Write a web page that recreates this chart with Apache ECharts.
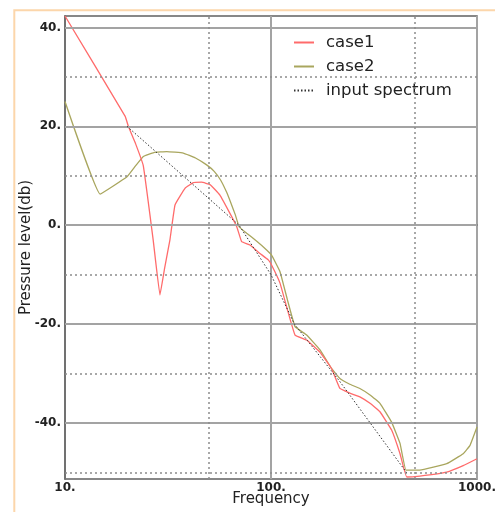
<!DOCTYPE html>
<html>
<head>
<meta charset="utf-8">
<script src="https://cdn.jsdelivr.net/npm/echarts@6/dist/echarts.min.js"></script>
<style>
  html, body { margin: 0; padding: 0; background: #fff; }
  #chart { width: 495px; height: 512px; }
</style>
</head>
<body>
<div id="chart"></div>
<script>
// ---- data ----
const case1Freq = [10, 19.6, 20.3, 22, 24, 26.8, 28.9, 30.5, 32.3, 34.2, 38.3, 42, 46, 50.7, 56.5, 63.2, 68.2, 72, 79, 88.4, 97, 100.5, 110.6, 120, 130.8, 149, 173, 197, 216, 240, 270, 305, 338, 385, 423, 456, 528, 713, 857, 1000];
const case1Val  = [42.3, 22, 20, 16.5, 12, -3, -14.1, -8.5, -3, 4.1, 7.5, 8.6, 8.7, 8.2, 6.1, 2.4, -0.3, -3.3, -4, -5.7, -7, -8, -11.7, -17, -22.2, -23.2, -25.7, -29, -33, -33.9, -34.7, -36.1, -37.7, -41.4, -46.2, -50.9, -50.7, -49.9, -48.6, -47.2];

const case2Freq = [10, 14.8, 20, 22, 24, 27, 31.2, 37.5, 43, 48.7, 53, 57, 61, 64, 67, 70, 76.2, 85, 93.5, 100.5, 110.6, 120, 130.8, 149, 173, 197, 216, 240, 270, 305, 338, 385, 423, 452, 528, 713, 857, 925, 1000];
const case2Val  = [25, 6.3, 9.8, 12, 13.9, 14.7, 14.9, 14.6, 13.6, 12.2, 10.9, 9.1, 6.6, 4.4, 2.2, -0.3, -1.6, -3.2, -4.7, -6, -9.4, -15, -20.5, -22.2, -25.2, -29, -31, -32.1, -33, -34.4, -36, -39.8, -44.1, -49.5, -49.5, -48.2, -46.2, -44.5, -40.8];

const inputFreq = [20, 70, 100, 130, 215, 455];
const inputVal  = [20, 0, -10, -20, -31.5, -50];

const yMin = -51.3, yMax = 42.3;
const yMajorTicks = [40, 20, 0, -20, -40];
const yMinorTicks = [30, 10, -10, -30, -50];
const xMinorTicks = [50, 500];

const seriesNames = ['case1', 'case2', 'input spectrum'];

// ---- build ----
const zip = (xs, ys) => xs.map((x, i) => [x, ys[i]]);
const font = 'DejaVu Sans';

const gridLines = [].concat(
  yMajorTicks.map(v => ({ yAxis: v, lineStyle: { type: 'solid', color: '#a3a3a3', width: 2 } })),
  yMinorTicks.map(v => ({ yAxis: v, lineStyle: { type: [2, 3], color: '#8c8c8c', width: 1.5 } })),
  xMinorTicks.map(v => ({ xAxis: v, lineStyle: { type: [2, 3], color: '#8c8c8c', width: 1.5 } }))
);

const chart = echarts.init(document.getElementById('chart'), null, { renderer: 'canvas' });
chart.setOption({
  animation: false,
  backgroundColor: '#fff',
  graphic: [{
    type: 'rect', silent: true,
    shape: { x: 14.3, y: 10.3, width: 700, height: 700 },
    style: { fill: 'none', stroke: '#fcd6ab', lineWidth: 2 }
  }],
  grid: {
    left: 65, top: 16, right: 18, bottom: 33,
    outerBoundsMode: 'none', containLabel: false,
    show: true, borderColor: '#606060', borderWidth: 1.5, backgroundColor: 'transparent'
  },
  legend: {
    data: seriesNames,
    orient: 'vertical',
    left: 293, top: 34,
    padding: 0,
    itemWidth: 20, itemHeight: 14, itemGap: 7,
    itemStyle: { opacity: 0 },
    textStyle: { fontFamily: font, fontSize: 16.5, color: '#222', lineHeight: 16, padding: [0, 0, 0, 7] }
  },
  xAxis: {
    type: 'log', logBase: 10, min: 10, max: 1000,
    name: 'Frequency', nameLocation: 'middle', nameGap: 13, nameMoveOverlap: false,
    nameTextStyle: { fontFamily: font, fontSize: 15, color: '#222' },
    axisLine: { show: true, lineStyle: { color: '#606060', width: 1.5 } },
    axisTick: { show: false },
    axisLabel: { margin: 3, fontFamily: font, fontSize: 12, fontWeight: 'bold', color: '#222',
                 formatter: v => v + '.' },
    splitLine: { show: true, lineStyle: { color: '#a3a3a3', width: 2 } },
    minorSplitLine: { show: false }
  },
  yAxis: {
    type: 'value', min: yMin, max: yMax,
    name: 'Pressure level(db)', nameLocation: 'middle', nameGap: 31, nameRotate: 90, nameMoveOverlap: false,
    nameTextStyle: { fontFamily: font, fontSize: 15, color: '#222' },
    axisLine: { show: true, lineStyle: { color: '#606060', width: 1.5 } },
    axisTick: { show: false, customValues: yMajorTicks },
    axisLabel: { customValues: yMajorTicks, margin: 4, fontFamily: font, fontSize: 12,
                 fontWeight: 'bold', color: '#222', formatter: v => v + '.' },
    splitLine: { show: false }
  },
  series: [
    {
      name: 'grid', type: 'line', data: [], z: 1, silent: true,
      markLine: { silent: true, symbol: 'none', label: { show: false }, animation: false, data: gridLines }
    },
    {
      name: seriesNames[0], type: 'line', data: zip(case1Freq, case1Val), z: 4,
      symbol: 'none', smooth: 0.08, color: '#ff6b6b', lineStyle: { color: '#ff6b6b', width: 1.3 }
    },
    {
      name: seriesNames[1], type: 'line', data: zip(case2Freq, case2Val), z: 3,
      symbol: 'none', smooth: 0.08, color: '#a9a65e', lineStyle: { color: '#a9a65e', width: 1.3 }
    },
    {
      name: seriesNames[2], type: 'line', data: zip(inputFreq, inputVal), z: 5,
      symbol: 'none', color: '#333', lineStyle: { color: '#333', width: 1, type: [1.5, 2] }
    }
  ]
});
</script>
</body>
</html>
